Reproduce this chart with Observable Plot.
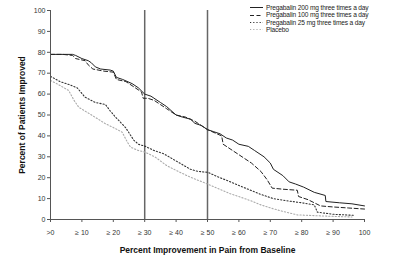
<!DOCTYPE html>
<html>
<head>
<meta charset="utf-8">
<script src="https://cdn.jsdelivr.net/npm/d3@7"></script>
<script src="https://cdn.jsdelivr.net/npm/@observablehq/plot@0.6"></script>
<style>
  html, body { margin: 0; padding: 0; background: #fff; }
  #chart { position: relative; width: 400px; height: 257px; font-family: "Liberation Sans", Arial, sans-serif; }
  #chart svg.plot [aria-label$="axis label"] text { font-weight: bold; font-size: 8.5px; fill: #111; }
  #legend { position: absolute; left: 250px; top: 4px; font-size: 6.6px; color: #222; line-height: 7.4px; letter-spacing: -0.15px; }
  #legend div { display: flex; align-items: center; white-space: nowrap; }
  #legend svg { margin-right: 3px; }
</style>
</head>
<body>
<div id="chart"></div>
<script>
// Percent improvement thresholds (x) and percent of patients reaching them (y)
const seriesNames = [
  "Pregabalin 200 mg three times a day",
  "Pregabalin 100 mg three times a day",
  "Pregabalin 25 mg three times a day",
  "Placebo"
];

const pregabalin200 = [
  [0,79],[3,79],[7,79],[8,78.5],[10,77],[12,76],[13,75],[14.3,73],[16,72],[19,71.5],[20,71],[21,68],
  [23,67],[26,65],[28,63],[30,60],[32,59],[35,56],[37,54],[40,50],[42,49],[44.6,48],[46,46],[48,45],
  [50,43],[52,42],[54,41],[56,39],[58,38],[60,36],[63,35],[65,33],[68,30],[70,27],[71,24],[74,21],
  [76,18],[78,17],[80.6,15.5],[84,13],[87.5,11.5],[87.7,8.6],[92,8],[96,7.5],[100,6.5]
];

const pregabalin100 = [
  [0,79],[4,79],[7,78.5],[8,77],[11,76],[12,74],[13.5,72],[17,71],[20,70.5],[21,67],[24,66],[27,63],
  [29,61],[29.5,58],[31,58],[33,57],[35,55],[37,53],[40,50],[43,49],[46,47],[48,45],[50,43],[53,41],
  [54.5,40],[55,36],[58,33],[61,30],[64,27],[67,23],[69,19],[70.6,15],[74,14.5],[78.6,14],[79,11],
  [82,9.5],[84,8],[86,6.5],[90,6],[95,5.5],[100,5]
];

const pregabalin25 = [
  [0,68.5],[3,66],[6,64.5],[8.5,63],[11,58.5],[14.3,56],[17.5,55],[19,52],[20.7,49],[23.9,44],
  [26.5,38],[28,36],[30.2,35],[33,33],[36,31.5],[40,28],[44.6,24],[47,23],[50,22.6],[54,20],[57.3,18],
  [60.5,16],[63.7,14],[67,12],[71,10],[76,8.8],[80,8],[84,7],[85,3.5],[90,2.5],[96.5,2]
];

const placebo = [
  [0,66.5],[2,65],[5.8,61.7],[7.5,57],[9,53.7],[13.3,49.8],[17.5,45.8],[20,44],[22.8,41.8],[24.5,37],
  [25.5,34.6],[28,33],[30.2,32.2],[33.4,29.8],[37,25.8],[40,23.5],[44.6,20.2],[50,17],[53,15],
  [57.3,12.3],[60.5,10.7],[63.7,9],[67,7],[71,5.1],[75,3.5],[78.6,2.2],[85,1.8],[90,1.5],[96,1.2]
];

const xTicks = [0,10,20,30,40,50,60,70,80,90,100];
const xTickLabels = [">0","\u2265 10","\u2265 20","\u2265 30","\u2265 40","\u2265 50","\u2265 60","\u2265 70","\u2265 80","\u2265 90","100"];
const yTicks = [0,10,20,30,40,50,60,70,80,90,100];
const cutoffs = [30, 50];

const styles = [
  {stroke: "#222", dash: null, width: 1},
  {stroke: "#222", dash: "4,2.5", width: 1},
  {stroke: "#333", dash: "1.2,2", width: 1.1},
  {stroke: "#aaa", dash: "1.2,2", width: 1.1}
];

const allSeries = [pregabalin200, pregabalin100, pregabalin25, placebo];

const lineMarks = allSeries.map((s, i) =>
  Plot.line(s.map(([x, y]) => ({x, y})), {
    x: "x", y: "y",
    stroke: styles[i].stroke,
    strokeWidth: styles[i].width,
    strokeDasharray: styles[i].dash
  })
);

const chart = Plot.plot({
  width: 400,
  height: 257,
  marginLeft: 50,
  marginRight: 36,
  marginTop: 10,
  marginBottom: 38,
  style: {fontFamily: "Liberation Sans, Arial, sans-serif", fontSize: "7px", color: "#333", background: "#fff"},
  x: {domain: [0, 100]},
  y: {domain: [0, 100]},
  marks: [
    Plot.ruleX(cutoffs, {y1: 0, y2: 100, stroke: "#666", strokeWidth: 1.5}),
    ...lineMarks,
    Plot.ruleY([0], {stroke: "#555", strokeWidth: 1}),
    Plot.ruleX([0], {stroke: "#555", strokeWidth: 1}),
    Plot.axisY({
      ticks: yTicks, tickSize: 3, tickPadding: 2, stroke: "#555",
      label: "Percent of Patients Improved", labelAnchor: "center", labelArrow: "none", labelOffset: 32
    }),
    Plot.axisX({
      ticks: xTicks, tickSize: 3, tickPadding: 8, stroke: "#555",
      tickFormat: (d) => xTickLabels[xTicks.indexOf(d)],
      label: "Percent Improvement in Pain from Baseline", labelAnchor: "center", labelArrow: "none", labelOffset: 33
    })
  ]
});
chart.classList.add("plot");
document.getElementById("chart").appendChild(chart);

// Legend: line sample and series name
const legend = d3.select("#chart").append("div").attr("id", "legend");
seriesNames.forEach((name, i) => {
  const row = legend.append("div");
  const sw = row.append("svg").attr("width", 13).attr("height", 7);
  sw.append("line").attr("x1", 0).attr("x2", 13).attr("y1", 3.5).attr("y2", 3.5)
    .attr("stroke", styles[i].stroke).attr("stroke-width", styles[i].width)
    .attr("stroke-dasharray", styles[i].dash);
  row.append("span").text(name);
});
</script>
</body>
</html>
